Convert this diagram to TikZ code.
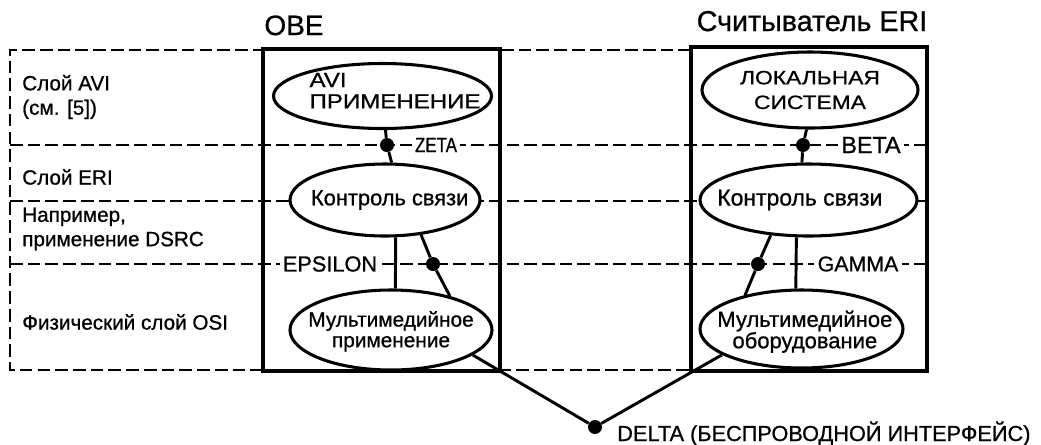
\documentclass[tikz,border=0pt]{standalone}
\usepackage{fontspec}
\setmainfont{Liberation Sans}[FakeBold=0.8]
\newfontfamily\narrowsans{Liberation Sans}[FakeBold=0.8, FakeStretch=0.82]
\newfontfamily\widesans{Liberation Sans}[FakeBold=0.8, FakeStretch=1.18]
\usetikzlibrary{shapes.geometric}
\newcommand{\fs}[1]{\fontsize{#1}{1.18\dimexpr #1pt\relax}\selectfont}
\newcommand{\fsl}[2]{\fontsize{#1}{#2}\selectfont}
\begin{document}
\begin{tikzpicture}[x=0.75pt,y=-0.75pt,
  layerline/.style={line width=1.5pt, dash pattern=on 9.5pt off 3.8pt},
  unitbox/.style={draw, line width=2.7pt, inner sep=0, fill=none},
  func/.style={ellipse, draw, line width=2.3pt, fill=white, inner sep=0},
  ftext/.style={align=center, inner sep=0},
  link/.style={line width=2.2pt},
  sap/.style={circle, fill=black, inner sep=0, minimum size=10.5pt},
  tag/.style={fill=white, inner sep=2.5pt},
  side/.style={anchor=west, align=left, inner sep=0, font=\fs{15.5}},
  title/.style={anchor=base, inner sep=0, font=\fs{21}}]
\useasboundingbox (0,0) rectangle (1041,444);

% layer grid
\coordinate (tl) at (10,50);
\coordinate (bl) at (10,370);
\draw[layerline] (691,50) -- (tl) -- (bl) -- (691,370);
\draw[layerline] (10,145) -- (927,145);
\draw[layerline] (10,201) -- (927,201);
\draw[layerline] (10,264) -- (927,264);

% layer names
\node[side] (lavi) at (22,97) {Слой AVI\\(см. [5])};
\node[side] (leri) at (22,177) {Слой ERI};
\node[side] (ldsrc) at (22,229) {Например,\\применение DSRC};
\node[side] (losi) at (22,322) {Физический слой OSI};

% units
\node[unitbox, minimum width=177.75pt, minimum height=241.5pt] (obe) at (381.5,210) {};
\node[unitbox, minimum width=177pt, minimum height=243pt] (eri) at (809,209) {};
\node[title] (tobe) at (294,35) {OBE};
\node[title, font=\fs{21.5}] (teri) at (812,31) {Считыватель ERI};

% functions
\node[func, minimum width=163.5pt, minimum height=48.75pt,
  label={[ftext, align=left, font=\widesans\fsl{15.3}{16}, xshift=9.4pt, yshift=4pt]center:{AVI\\ПРИМЕНЕНИЕ}}]
  (avi) at (382.5,96) {};
\node[func, minimum width=142.5pt, minimum height=54pt,
  label={[ftext, font=\fs{16.4}, xshift=3.5pt]center:{Контроль связи}}]
  (ctl1) at (385,200) {};
\node[func, minimum width=151.5pt, minimum height=60pt,
  label={[ftext, font=\fsl{15.6}{15.5}, yshift=-1pt]center:{Мультимедийное\\применение}}]
  (mm1) at (391,330) {};
\node[func, minimum width=162pt, minimum height=57pt,
  label={[ftext, font=\widesans\fsl{14.5}{18.5}]center:{ЛОКАЛЬНАЯ\\СИСТЕМА}}]
  (lok) at (810,90) {};
\node[func, minimum width=162.75pt, minimum height=54pt,
  label={[ftext, font=\fs{17.2}, xshift=-6.5pt]center:{Контроль связи}}]
  (ctl2) at (808.5,200) {};
\node[func, minimum width=152.25pt, minimum height=58.5pt,
  label={[ftext, font=\fsl{16.5}{16}, xshift=2.5pt, yshift=-2pt]center:{Мультимедийное\\оборудование}}]
  (mm2) at (801.5,329) {};

% service access points
\node[sap] (zeta) at (387,145) {};
\node[sap] (beta) at (803,145) {};
\node[sap] (eps) at (433,264) {};
\node[sap] (gam) at (758,264) {};
\node[sap] (delta) at (595,427) {};

% connectors
\draw[link] (avi.-85) -- (zeta) -- (ctl1.80);
\draw[link] (lok.-95) -- (beta) -- (ctl2.100);
\draw[link] (ctl1.-74.5) -- (mm1.84);
\draw[link] (ctl1.-44) -- (eps) -- (mm1.30.5);
\draw[link] (ctl2.-108.6) -- (mm2.98.7);
\draw[link] (ctl2.-137) -- (gam) -- (mm2.149.6);
\draw[link] (mm1.-17) -- (delta) -- (mm2.-162);

% interface labels
\node[tag, font=\narrowsans\fs{15.5}] (lzeta) at (436,145) {ZETA};
\node[tag, font=\fs{17.5}] (lbeta) at (871,145) {BETA};
\node[tag, font=\fs{16.3}] (leps) at (330,264) {EPSILON};
\node[tag, font=\fs{16}] (lgam) at (858,264) {GAMMA};
\node[anchor=base west, inner sep=0, font=\fs{16.3}] (ldelta) at (617,441)
  {DELTA (БЕСПРОВОДНОЙ ИНТЕРФЕЙС)};
\end{tikzpicture}
\end{document}
